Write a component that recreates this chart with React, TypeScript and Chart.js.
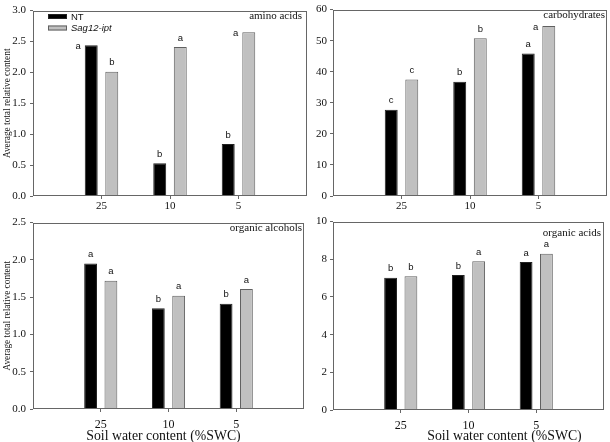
import React, { useEffect, useRef } from 'react';
import { Chart, registerables } from 'chart.js';

Chart.register(...registerables);

// ---------- data ----------
const categories = ['25', '10', '5'];
const seriesNames = ['NT', 'Sag12-ipt'];

const aminoNT = [2.44, 0.53, 0.84];
const aminoSag = [2.01, 2.41, 2.65];
const aminoNTLetters = ['a', 'b', 'b'];
const aminoSagLetters = ['b', 'a', 'a'];

const carbNT = [27.8, 36.8, 45.9];
const carbSag = [37.5, 50.8, 54.7];
const carbNTLetters = ['c', 'b', 'a'];
const carbSagLetters = ['c', 'b', 'a'];

const alcNT = [1.95, 1.35, 1.41];
const alcSag = [1.72, 1.52, 1.61];
const alcNTLetters = ['a', 'b', 'b'];
const alcSagLetters = ['a', 'a', 'a'];

const acidNT = [7.02, 7.17, 7.85];
const acidSag = [7.1, 7.9, 8.3];
const acidNTLetters = ['b', 'b', 'a'];
const acidSagLetters = ['b', 'a', 'a'];

const yTitleText = 'Average total relative content';
const xTitleText = 'Soil water content (%SWC)';

// ---------- styling ----------
const SERIF = 'Liberation Serif';
const SANS = 'Liberation Sans';
const NT_FILL = '#000000';
const NT_BORDER = '#222222';
const SAG_FILL = '#c0c0c0';
const SAG_BORDER = '#606060';
const FRAME = '#666666';

type Panel = {
  left: number; top: number; w: number; h: number;
  chartTop: number; chartBottom: number;
  title: string; titleRight: number; titleY: number;
  nt: number[]; sag: number[]; ntL: string[]; sagL: string[];
  yMax: number; yStep: number; decimals: number;
  yTitle: boolean; yPad: number;
  xFont: number; xPad: number;
  xTitle: boolean; xTitleX: number; xTitleY: number;
  legend: boolean;
  leftPlaced: string[];
};

const panels: Panel[] = [
  {
    left: 0, top: 0, w: 310, h: 212, chartTop: 5, chartBottom: 196,
    title: 'amino acids', titleRight: 302, titleY: 16,
    nt: aminoNT, sag: aminoSag, ntL: aminoNTLetters, sagL: aminoSagLetters,
    yMax: 3, yStep: 0.5, decimals: 1, yTitle: true, yPad: 4,
    xFont: 11, xPad: 1, xTitle: false, xTitleX: 0, xTitleY: 0,
    legend: true, leftPlaced: ['0-0', '1-2'],
  },
  {
    left: 300, top: 0, w: 310, h: 212, chartTop: 5, chartBottom: 196,
    title: 'carbohydrates', titleRight: 305, titleY: 15,
    nt: carbNT, sag: carbSag, ntL: carbNTLetters, sagL: carbSagLetters,
    yMax: 60, yStep: 10, decimals: 0, yTitle: false, yPad: 3,
    xFont: 11, xPad: 1, xTitle: false, xTitleX: 0, xTitleY: 0,
    legend: false, leftPlaced: ['1-2'],
  },
  {
    left: 0, top: 212, w: 310, h: 230, chartTop: 6, chartBottom: 197,
    title: 'organic alcohols', titleRight: 302, titleY: 16,
    nt: alcNT, sag: alcSag, ntL: alcNTLetters, sagL: alcSagLetters,
    yMax: 2.5, yStep: 0.5, decimals: 1, yTitle: true, yPad: 4,
    xFont: 12, xPad: 6, xTitle: true, xTitleX: 163.5, xTitleY: 224,
    legend: false, leftPlaced: [],
  },
  {
    left: 300, top: 212, w: 310, h: 230, chartTop: 7, chartBottom: 198,
    title: 'organic acids', titleRight: 301, titleY: 21,
    nt: acidNT, sag: acidSag, ntL: acidNTLetters, sagL: acidSagLetters,
    yMax: 10, yStep: 2, decimals: 0, yTitle: false, yPad: 3,
    xFont: 12, xPad: 6, xTitle: true, xTitleX: 204.5, xTitleY: 224,
    legend: false, leftPlaced: [],
  },
];

function makeDecor(p: Panel) {
  return {
    id: 'decor',
    afterDatasetsDraw(chart: any) {
      const { ctx, chartArea: a } = chart;
      ctx.save();
      // frame
      ctx.strokeStyle = FRAME;
      ctx.lineWidth = 1;
      const l = Math.round(a.left) + 0.5;
      const t = Math.round(a.top) + 0.5;
      const r = Math.round(a.right) - 0.5;
      const b = Math.round(a.bottom) - 0.5;
      ctx.strokeRect(l, t, r - l, b - t);

      // significance letters
      ctx.fillStyle = '#111';
      ctx.font = `9.5px "${SANS}"`;
      const letterSets = [p.ntL, p.sagL];
      for (let di = 0; di < 2; di++) {
        const meta = chart.getDatasetMeta(di);
        letterSets[di].forEach((letter, j) => {
          const el = meta.data[j + 1];
          if (!el) return;
          const { x, y, width } = el.getProps(['x', 'y', 'width'], true);
          if (p.leftPlaced.includes(`${di}-${j}`)) {
            ctx.textAlign = 'right';
            ctx.textBaseline = 'middle';
            ctx.fillText(letter, x - width / 2 - 4, y + 1);
          } else {
            ctx.textAlign = 'center';
            ctx.textBaseline = 'middle';
            ctx.fillText(letter, x, y - 9);
          }
        });
      }

      // panel title
      ctx.font = `11px "${SERIF}"`;
      ctx.fillStyle = '#111';
      ctx.textAlign = 'right';
      ctx.textBaseline = 'middle';
      ctx.fillText(p.title, p.titleRight, p.titleY);

      // x title
      if (p.xTitle) {
        ctx.font = `13.8px "${SERIF}"`;
        ctx.textAlign = 'center';
        ctx.fillText(xTitleText, p.xTitleX, p.xTitleY);
      }

      // legend
      if (p.legend) {
        const fills = [NT_FILL, SAG_FILL];
        const borders = [NT_BORDER, SAG_BORDER];
        const ys = [14, 25.5];
        for (let i = 0; i < 2; i++) {
          ctx.fillStyle = fills[i];
          ctx.fillRect(48, ys[i], 19, 5);
          ctx.strokeStyle = borders[i];
          ctx.strokeRect(48.5, ys[i] + 0.5, 18, 4);
          ctx.fillStyle = '#111';
          ctx.font = `${i === 1 ? 'italic ' : ''}9.5px "${SANS}"`;
          ctx.textAlign = 'left';
          ctx.textBaseline = 'middle';
          ctx.fillText(chart.data.datasets[i].label, 71, ys[i] + 3);
        }
      }
      ctx.restore();
    },
  };
}

function PanelChart({ p }: { p: Panel }) {
  const ref = useRef<HTMLCanvasElement | null>(null);
  useEffect(() => {
    if (!ref.current) return;
    const labels = ['', ...categories, ''];
    const pad = (arr: number[]) => [null, ...arr, null];
    const chart = new Chart(ref.current, {
      type: 'bar',
      data: {
        labels,
        datasets: [
          {
            label: seriesNames[0], data: pad(p.nt) as any,
            backgroundColor: NT_FILL, borderColor: NT_BORDER, borderWidth: 1,
            categoryPercentage: 0.6, barPercentage: 0.63,
          },
          {
            label: seriesNames[1], data: pad(p.sag) as any,
            backgroundColor: SAG_FILL, borderColor: SAG_BORDER, borderWidth: 1,
            categoryPercentage: 0.6, barPercentage: 0.63,
          },
        ],
      },
      options: {
        responsive: false,
        animation: false,
        events: [],
        layout: { padding: { top: p.chartTop, right: 3, left: 0, bottom: 0 } },
        plugins: { legend: { display: false }, tooltip: { enabled: false }, title: { display: false } },
        scales: {
          x: {
            type: 'category',
            offset: false,
            grid: {
              offset: false,
              drawOnChartArea: false,
              drawTicks: true,
              tickLength: 3,
              tickColor: (c: any) => (c.index === 0 || c.index === 4 ? 'rgba(0,0,0,0)' : FRAME),
            },
            border: { display: false },
            ticks: {
              color: '#111',
              font: { family: SERIF, size: p.xFont },
              padding: p.xPad,
              maxRotation: 0,
              autoSkip: false,
            },
            afterFit: (s: any) => { s.height = p.h - p.chartBottom; },
          },
          y: {
            min: 0,
            max: p.yMax,
            grid: { drawOnChartArea: false, drawTicks: true, tickLength: 3, tickColor: FRAME },
            border: { display: false },
            ticks: {
              stepSize: p.yStep,
              color: '#111',
              font: { family: SERIF, size: 11 },
              padding: p.yPad,
              callback: (v: any) => Number(v).toFixed(p.decimals),
            },
            title: {
              display: p.yTitle,
              text: yTitleText,
              color: '#111',
              font: { family: SERIF, size: 9.3 },
              padding: { top: 2, bottom: 0 },
            },
            afterFit: (s: any) => { s.width = 33; },
          },
        },
      },
      plugins: [makeDecor(p)],
    } as any);
    return () => chart.destroy();
  }, [p]);
  return (
    <canvas
      ref={ref}
      width={p.w}
      height={p.h}
      style={{ position: 'absolute', left: p.left, top: p.top, width: p.w, height: p.h }}
    />
  );
}

export default function App() {
  return (
    <div style={{ position: 'absolute', left: 0, top: 0, width: 610, height: 442, background: '#fff', overflow: 'hidden' }}>
      {panels.map((p, i) => (
        <PanelChart key={i} p={p} />
      ))}
    </div>
  );
}
